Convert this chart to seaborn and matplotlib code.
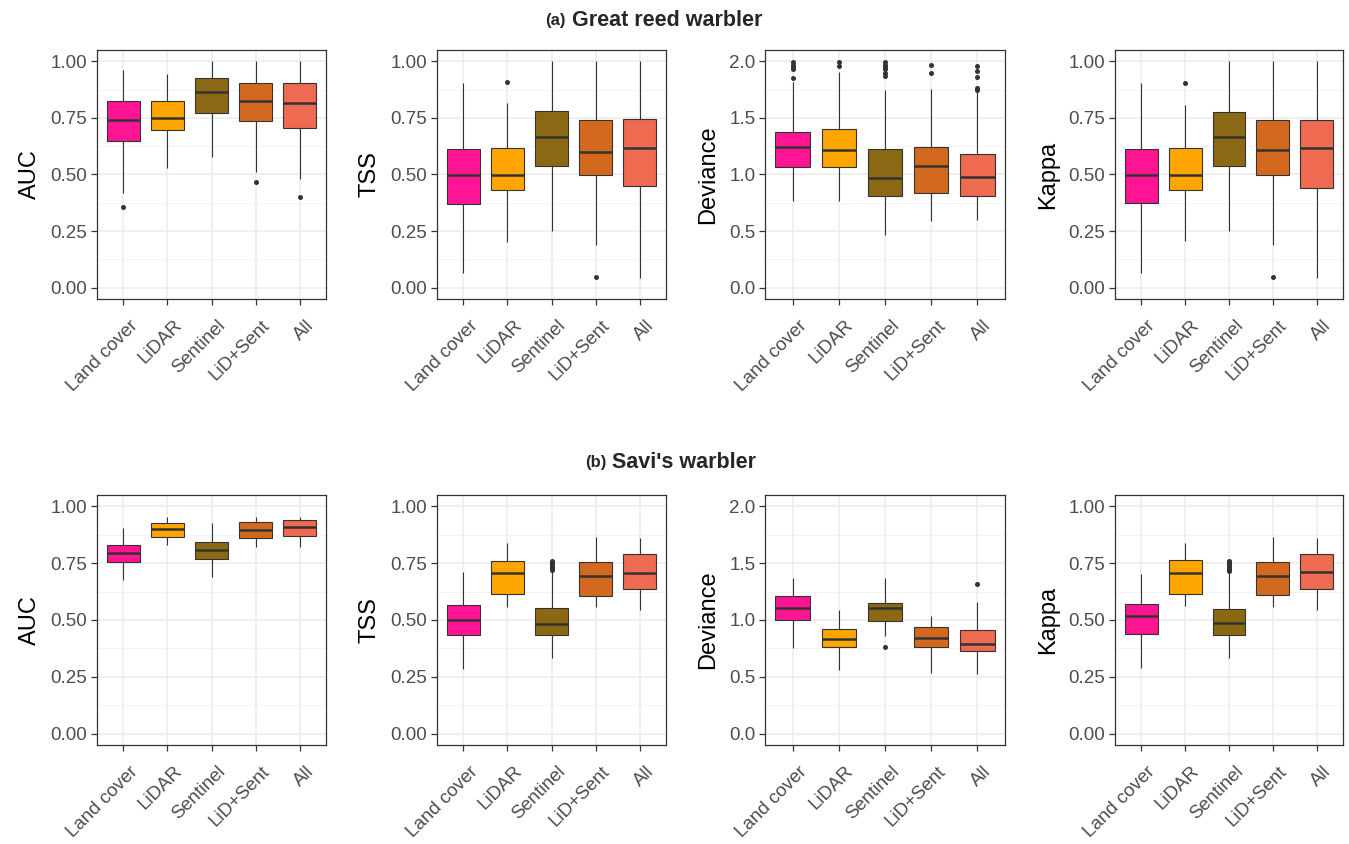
import matplotlib
matplotlib.use("Agg")
import matplotlib.pyplot as plt
from matplotlib.ticker import MultipleLocator, FormatStrFormatter
from matplotlib.transforms import ScaledTranslation
import pandas as pd
import seaborn as sns

MODELS = ["Land cover", "LiDAR", "Sentinel", "LiD+Sent", "All"]
COLORS = ["#FF1493", "#FFA500", "#8B6914", "#D2691E", "#EE6A50"]

# box summaries per model: [lower whisker, q1, median, q3, upper whisker]
grw_auc = [[0.42, 0.65, 0.742, 0.824, 0.96], [0.527, 0.695, 0.75, 0.824, 0.944],
           [0.578, 0.772, 0.864, 0.925, 1.0], [0.51, 0.736, 0.823, 0.906, 1.0],
           [0.48, 0.707, 0.814, 0.906, 1.0]]
grw_auc_out = [[0.356], [], [], [0.466], [0.40]]

grw_tss = [[0.066, 0.37, 0.498, 0.612, 0.905], [0.202, 0.43, 0.498, 0.618, 0.817],
           [0.25, 0.537, 0.666, 0.779, 1.0], [0.19, 0.498, 0.599, 0.742, 1.0],
           [0.044, 0.447, 0.616, 0.745, 1.0]]
grw_tss_out = [[], [0.908], [], [0.047], []]

grw_dev = [[0.77, 1.069, 1.239, 1.376, 1.82], [0.77, 1.063, 1.22, 1.40, 1.91],
           [0.463, 0.808, 0.966, 1.224, 1.75], [0.586, 0.84, 1.075, 1.247, 1.757],
           [0.60, 0.811, 0.978, 1.183, 1.728]]
grw_dev_out = [[1.85, 1.93, 1.95, 1.97, 1.99], [1.96, 1.99],
               [1.87, 1.90, 1.93, 1.95, 1.97, 1.99], [1.90, 1.965],
               [1.745, 1.765, 1.862, 1.912, 1.956]]

grw_kap = [[0.066, 0.373, 0.498, 0.612, 0.905], [0.206, 0.43, 0.498, 0.618, 0.807],
           [0.25, 0.537, 0.666, 0.776, 1.0], [0.19, 0.498, 0.609, 0.742, 1.0],
           [0.044, 0.44, 0.616, 0.742, 1.0]]
grw_kap_out = [[], [0.905], [], [0.047], []]

sw_auc = [[0.677, 0.754, 0.797, 0.832, 0.906], [0.829, 0.867, 0.899, 0.927, 0.952],
          [0.691, 0.77, 0.806, 0.844, 0.925], [0.823, 0.861, 0.896, 0.931, 0.952],
          [0.823, 0.87, 0.909, 0.939, 0.955]]
sw_auc_out = [[], [], [], [], []]

sw_tss = [[0.285, 0.436, 0.501, 0.564, 0.711], [0.556, 0.614, 0.705, 0.76, 0.841],
          [0.333, 0.434, 0.484, 0.551, 0.716], [0.556, 0.607, 0.693, 0.754, 0.864],
          [0.542, 0.637, 0.708, 0.789, 0.861]]
sw_tss_out = [[], [], [0.72, 0.725, 0.73, 0.735, 0.74, 0.745, 0.75, 0.755, 0.76], [], []]

sw_dev = [[0.754, 1.0, 1.102, 1.208, 1.371], [0.556, 0.763, 0.833, 0.918, 1.085],
          [0.857, 0.994, 1.102, 1.149, 1.368], [0.535, 0.763, 0.839, 0.942, 1.038],
          [0.526, 0.731, 0.789, 0.912, 1.158]]
sw_dev_out = [[], [], [0.76], [], [1.316]]

sw_kap = [[0.29, 0.44, 0.516, 0.572, 0.702], [0.563, 0.614, 0.706, 0.763, 0.841],
          [0.333, 0.434, 0.485, 0.548, 0.709], [0.556, 0.61, 0.694, 0.757, 0.864],
          [0.542, 0.636, 0.712, 0.791, 0.861]]
sw_kap_out = [[], [], [0.715, 0.72, 0.725, 0.73, 0.735, 0.74, 0.745, 0.75, 0.755, 0.76], [], []]

METRICS = ["AUC", "TSS", "Deviance", "Kappa"]
ROWS = [
    [(grw_auc, grw_auc_out), (grw_tss, grw_tss_out), (grw_dev, grw_dev_out), (grw_kap, grw_kap_out)],
    [(sw_auc, sw_auc_out), (sw_tss, sw_tss_out), (sw_dev, sw_dev_out), (sw_kap, sw_kap_out)],
]

W, H = 1349, 844
X_PIX = [(97, 326), (437, 666), (765, 1005), (1115, 1343)]
Y_PIX = [(50, 299), (495, 745)]

sns.set_theme(style="white")
plt.rcParams["font.family"] = ["Liberation Sans", "DejaVu Sans"]

fig = plt.figure(figsize=(W / 100, H / 100), dpi=100)


def draw_panel(ax, stats, outliers, metric):
    long = pd.DataFrame(
        [(m, v) for m, s in zip(MODELS, stats) for v in s], columns=["model", "value"]
    )
    sns.boxplot(long, x="model", y="value", hue="model", order=MODELS,
                hue_order=MODELS, palette=COLORS, saturation=1, whis=(0, 100),
                showfliers=False, showcaps=False, width=0.75, linewidth=0.8,
                linecolor="#333333", legend=False,
                medianprops={"linewidth": 1.8, "color": "#333333"}, ax=ax, zorder=3)
    pts = pd.DataFrame(
        [(m, v) for m, o in zip(MODELS, outliers) for v in o], columns=["model", "value"]
    )
    if len(pts):
        sns.stripplot(pts, x="model", y="value", order=MODELS, jitter=False,
                      color="#333333", size=3.6, ax=ax, zorder=4)
    ax.set_xlim(-0.6, 4.6)
    if metric == "Deviance":
        ax.set_ylim(-0.1, 2.1)
        ax.yaxis.set_major_locator(MultipleLocator(0.5))
        ax.yaxis.set_minor_locator(MultipleLocator(0.25))
        ax.yaxis.set_major_formatter(FormatStrFormatter("%.1f"))
    else:
        ax.set_ylim(-0.05, 1.05)
        ax.yaxis.set_major_locator(MultipleLocator(0.25))
        ax.yaxis.set_minor_locator(MultipleLocator(0.125))
        ax.yaxis.set_major_formatter(FormatStrFormatter("%.2f"))
    ax.set_xlabel("")
    ax.set_ylabel(metric, fontsize=17, color="black", labelpad=7)
    ax.grid(axis="both", which="major", color="#EBEBEB", linewidth=1.1, zorder=0)
    ax.grid(axis="y", which="minor", color="#F2F2F2", linewidth=0.6, zorder=0)
    ax.set_axisbelow(True)
    for sp in ax.spines.values():
        sp.set_color("#333333")
        sp.set_linewidth(0.9)
    ax.tick_params(axis="both", which="major", length=4, width=0.9, color="#333333",
                   labelsize=13.5, labelcolor="#4D4D4D", direction="out", pad=3,
                   left=True, bottom=True)
    ax.tick_params(axis="y", which="minor", length=0, left=False)
    # shift the rotated labels a little down/right, like ggplot's hjust=1 at 45 deg
    shift = ScaledTranslation(4 / 72, -6 / 72, fig.dpi_scale_trans)
    for lab in ax.get_xticklabels():
        lab.set_rotation(45)
        lab.set_ha("right")
        lab.set_rotation_mode("anchor")
        lab.set_transform(lab.get_transform() + shift)


for r, row in enumerate(ROWS):
    y0, y1 = Y_PIX[r]
    for c, (stats, outs) in enumerate(row):
        x0, x1 = X_PIX[c]
        ax = fig.add_axes([x0 / W, 1 - y1 / H, (x1 - x0) / W, (y1 - y0) / H])
        draw_panel(ax, stats, outs, METRICS[c])

fig.text(566 / W, 1 - 20 / H, "(a)", ha="right", va="center", fontsize=12, fontweight="bold")
fig.text(572 / W, 1 - 20 / H, "Great reed warbler", ha="left", va="center", fontsize=15.5, fontweight="bold")
fig.text(607 / W, 1 - 462 / H, "(b)", ha="right", va="center", fontsize=12, fontweight="bold")
fig.text(612 / W, 1 - 462 / H, "Savi's warbler", ha="left", va="center", fontsize=15.5, fontweight="bold")

fig.savefig("out.png", dpi=100, facecolor="white")
